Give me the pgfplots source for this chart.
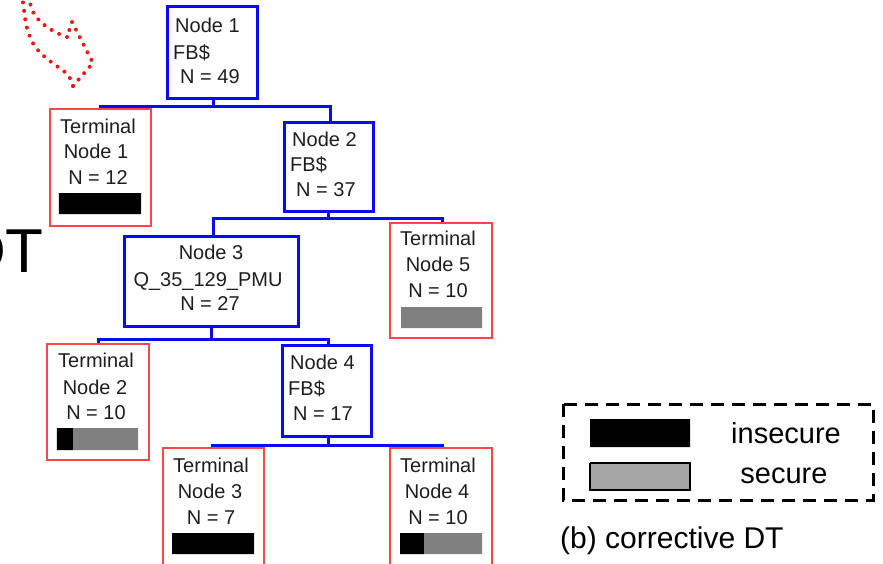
\documentclass[border=0pt]{standalone}
\usepackage{pgfplots}
\pgfplotsset{compat=1.18}
\usepackage{fontspec}
\setmainfont{Liberation Sans}
\definecolor{tblue}{RGB}{10,10,245}
\definecolor{tred}{RGB}{250,70,70}
\definecolor{dred}{RGB}{245,20,20}
\definecolor{tgray}{RGB}{128,128,128}
\definecolor{lgray}{RGB}{166,166,166}
\definecolor{ttext}{RGB}{30,30,30}
\begin{document}
\begin{tikzpicture}
\useasboundingbox (0,0) rectangle (883pt,563pt);
\clip (0,0) rectangle (883pt,563pt);
\begin{axis}[at={(0,0)}, anchor=south west, scale only axis,
  width=883pt, height=563pt, xmin=0, xmax=883, ymin=0, ymax=563,
  y dir=reverse, hide axis, clip=false]
% ---------- red dotted curved arrow (top left)
\addplot[dred, line width=4pt, dash pattern=on 0pt off 8.5pt, line cap=round, smooth, tension=0.6]
  coordinates {(22,-6) (24,10) (27,28) (34,45) (45,57) (58,67) (68,75) (73,86)};
\addplot[dred, line width=4pt, dash pattern=on 0pt off 8.5pt, line cap=round]
  coordinates {(73,86) (93,63) (72,22) (67,37)};
\addplot[dred, line width=4pt, dash pattern=on 0pt off 8.5pt, line cap=round, smooth, tension=0.6]
  coordinates {(67,37) (55,32) (42,23) (33,12) (28,-6)};
% ---------- big "DT" (cut)
\node[anchor=base east, font=\fontsize{62}{70}\selectfont, inner sep=0pt] at (axis cs:44,272) {DT};
% ---------- connectors
\addplot[tblue, line width=3pt] coordinates {(213,98) (213,106)};
\addplot[tblue, line width=3pt] coordinates {(100,109) (100,106) (330,106) (330,122)};
\addplot[tblue, line width=3pt] coordinates {(328,211) (328,218)};
\addplot[tblue, line width=3pt] coordinates {(213,236) (213,218) (442,218) (442,223)};
\addplot[tblue, line width=3pt] coordinates {(211,326) (211,339)};
\addplot[tblue, line width=3pt] coordinates {(98,344) (98,339) (328,339) (328,345)};
\addplot[tblue, line width=3pt] coordinates {(328,436) (328,445)};
\addplot[tblue, line width=3pt] coordinates {(212,448) (212,445) (442,445) (442,448)};
% ---------- inner node boxes
\draw[tblue, line width=3pt] (axis cs:167,6) rectangle (axis cs:257,98);
\draw[tblue, line width=3pt] (axis cs:284,122) rectangle (axis cs:373,211);
\draw[tblue, line width=3pt] (axis cs:124,236) rectangle (axis cs:298,326);
\draw[tblue, line width=3pt] (axis cs:282,345) rectangle (axis cs:371,436);
% ---------- terminal node boxes
\draw[tred, line width=2pt] (axis cs:50,109) rectangle (axis cs:151,226);
\draw[tred, line width=2pt] (axis cs:390,223) rectangle (axis cs:492,338);
\draw[tred, line width=2pt] (axis cs:47,344) rectangle (axis cs:149,460);
\draw[tred, line width=2pt] (axis cs:163,448) rectangle (axis cs:264,590);
\draw[tred, line width=2pt] (axis cs:390,448) rectangle (axis cs:492,590);
% ---------- class bars (insecure = black, secure = gray)
\addplot[fill=black, draw=none] coordinates {(59,193) (141,193) (141,214) (59,214) (59,193)};
\addplot[fill=tgray, draw=none] coordinates {(401,307) (482,307) (482,328) (401,328) (401,307)};
\addplot[fill=black, draw=none] coordinates {(57,428) (73,428) (73,450) (57,450) (57,428)};
\addplot[fill=tgray, draw=none] coordinates {(73,428) (138,428) (138,450) (73,450) (73,428)};
\addplot[fill=black, draw=none] coordinates {(172,533) (254,533) (254,554) (172,554) (172,533)};
\addplot[fill=black, draw=none] coordinates {(400,533) (424,533) (424,554) (400,554) (400,533)};
\addplot[fill=tgray, draw=none] coordinates {(424,533) (482,533) (482,554) (424,554) (424,533)};
% ---------- node texts
\begin{scope}[every node/.style={font=\fontsize{20}{24}\selectfont, text=ttext, inner sep=0pt}]
\node[anchor=base west] at (axis cs:175,32) {Node 1};
\node[anchor=base west] at (axis cs:173,59) {FB\$};
\node[anchor=base west] at (axis cs:180,83) {N = 49};
\node[anchor=base west] at (axis cs:292,146) {Node 2};
\node[anchor=base west] at (axis cs:290,171) {FB\$};
\node[anchor=base west] at (axis cs:296,196) {N = 37};
\node[anchor=base] at (axis cs:211,259) {Node 3};
\node[anchor=base] at (axis cs:208,286) {Q\_35\_129\_PMU};
\node[anchor=base] at (axis cs:210,310) {N = 27};
\node[anchor=base west] at (axis cs:290,369) {Node 4};
\node[anchor=base west] at (axis cs:288,395) {FB\$};
\node[anchor=base west] at (axis cs:293,420) {N = 17};
% terminal 1
\node[anchor=base] at (axis cs:98,133) {Terminal};
\node[anchor=base] at (axis cs:96,158) {Node 1};
\node[anchor=base] at (axis cs:98,184) {N = 12};
% terminal 5
\node[anchor=base] at (axis cs:438,245) {Terminal};
\node[anchor=base] at (axis cs:438,271) {Node 5};
\node[anchor=base] at (axis cs:438,297) {N = 10};
% terminal 2
\node[anchor=base] at (axis cs:96,367) {Terminal};
\node[anchor=base] at (axis cs:95,394) {Node 2};
\node[anchor=base] at (axis cs:96,419) {N = 10};
% terminal 3
\node[anchor=base] at (axis cs:211,472) {Terminal};
\node[anchor=base] at (axis cs:210,498) {Node 3};
\node[anchor=base] at (axis cs:211,524) {N = 7};
% terminal 4
\node[anchor=base] at (axis cs:438,472) {Terminal};
\node[anchor=base] at (axis cs:437,498) {Node 4};
\node[anchor=base] at (axis cs:438,524) {N = 10};
\end{scope}
% ---------- legend
\draw[black, line width=3pt, dash pattern=on 13pt off 8pt] (axis cs:563,404) rectangle (axis cs:873,500);
\addplot[fill=black, draw=none] coordinates {(590,419) (690,419) (690,447) (590,447) (590,419)};
\addplot[fill=lgray, draw=black, line width=1.5pt] coordinates {(590,463) (690,463) (690,490) (590,490) (590,463)};
\node[anchor=base, font=\fontsize{29}{32}\selectfont, inner sep=0pt] at (axis cs:786,443) {insecure};
\node[anchor=base, font=\fontsize{29}{32}\selectfont, inner sep=0pt] at (axis cs:784,483) {secure};
\node[anchor=base west, font=\fontsize{30}{34}\selectfont, inner sep=0pt] at (axis cs:560,548) {(b) corrective DT};
\end{axis}
\end{tikzpicture}
\end{document}
